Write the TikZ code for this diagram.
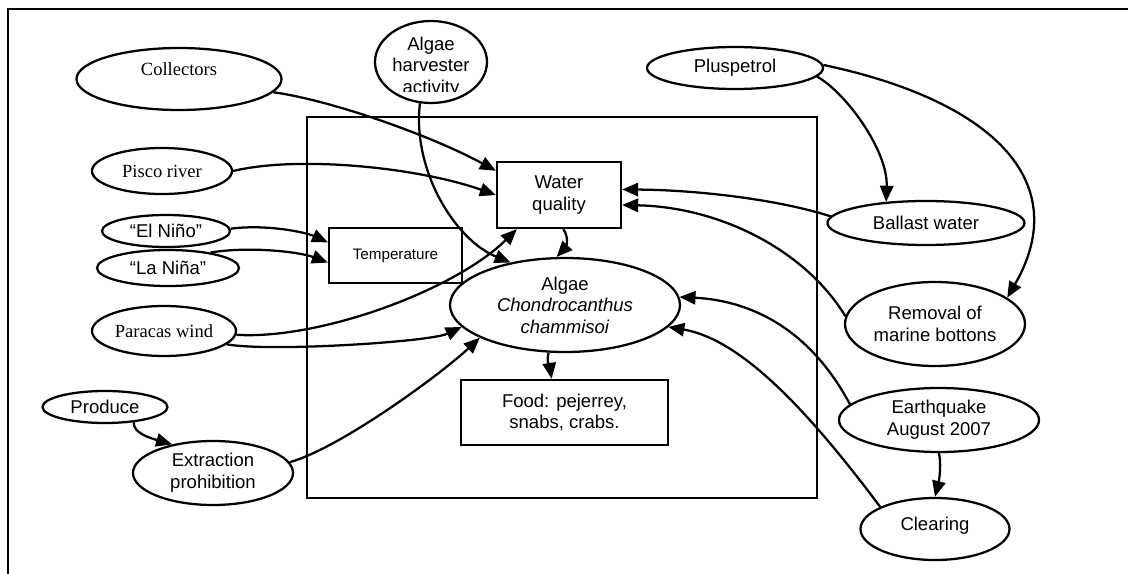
\documentclass[tikz,border=0pt]{standalone}
\usepackage{fontspec}
\setmainfont{Liberation Serif}
\setsansfont{Liberation Sans}
\usepackage{tikz}
\usetikzlibrary{arrows.meta,shapes.geometric}

\newcommand{\lbl}{\sffamily\fontsize{13.9}{16.2}\selectfont}
\newcommand{\lblrm}{\rmfamily\fontsize{13.9}{16.2}\selectfont}

\begin{document}
\begin{tikzpicture}[x=0.75pt,y=-0.75pt,line width=1.7pt,
  >={Triangle[length=12pt,width=10pt]},
  oval/.style={ellipse,draw,inner sep=0pt,align=center,font=\lbl},
  box/.style={rectangle,draw,inner sep=0pt,align=center,font=\lbl},
  wh/.style 2 args={minimum width={#1*0.75pt},minimum height={#2*0.75pt}}]
  \useasboundingbox (0,0) rectangle (1128,574);
  % frames
  \draw (1128,9) -- (8,9) -- (8,574);
  \draw (307,117) rectangle (817,498);
  % causes on the left
  \node[oval,wh={205}{62},font=\lblrm,text depth=15pt] (coll) at (179,79) {Collectors};
  \node[oval,wh={140}{46},font=\lblrm] (pisco) at (162,171) {Pisco river};
  \node[oval,wh={128}{32}] (nino) at (166,231) {“El Niño”};
  \node[oval,wh={142}{36}] (nina) at (168,268) {“La Niña”};
  \node[oval,wh={144}{50},font=\lblrm] (parac) at (164,331) {Paracas wind};
  \node[oval,wh={125}{32}] (produce) at (105,407) {Produce};
  \node[oval,wh={160}{64}] (extr) at (213,473) {Extraction\\prohibition};
  \node[oval,wh={112}{82}] (harv) at (431,62) {};
  \begin{scope}
    \clip (370,22) rectangle (492,92);
    \node[align=center,font=\lbl] at (431,67) {Algae\\harvester\\activity};
  \end{scope}
  % system
  \node[box,wh={124}{66}] (water) at (559,195) {Water\\quality};
  \node[box,wh={133}{55},font=\sffamily\fontsize{11.4}{13}\selectfont] (temp) at (395.5,255.5) {Temperature};
  \node[oval,wh={230}{94}] (algae) at (565,305) {Algae\\\textit{Chondrocanthus}\\\textit{chammisoi}};
  \node[box,wh={207}{65}] (food) at (564.5,412.5) {Food: pejerrey,\\snabs, crabs.};
  % causes on the right
  \node[oval,wh={176}{42}] (plus) at (735,68) {Pluspetrol};
  \node[oval,wh={197}{44}] (ballast) at (926,223) {Ballast water};
  \node[oval,wh={180}{84}] (removal) at (935,324) {Removal of\\marine bottons};
  \node[oval,wh={200}{64}] (quake) at (939,420) {Earthquake\\August 2007};
  \node[oval,wh={149}{62},text depth=8pt] (clear) at (935,529) {Clearing};
  % links
  \draw[->] (coll.-8) .. controls (330,100) and (430,135) .. (water.159);
  \draw[->] (pisco.0) .. controls (300,155) and (420,168) .. (water.180);
  \draw[->] (harv.-105) .. controls (412,170) and (455,240) .. (algae.142);
  \draw[->] (nino.2) .. controls (265,224) and (305,232) .. (temp.169);
  \draw[->] (nina.20) .. controls (250,246) and (300,252) .. (temp.186);
  \draw[->] (parac.-3) .. controls (320,340) and (455,290) .. (water.-141);
  \draw[->] (parac.-12) .. controls (270,352) and (430,342) .. (algae.-168);
  \draw[->] (water.-83) .. controls (570,238) and (565,248) .. (algae.100);
  \draw[->] (algae.-109) .. controls (546,362) and (550,368) .. (food.111);
  \draw[->] (extr.8) .. controls (340,448) and (440,375) .. (algae.-159);
  \draw[->] (produce.-28) .. controls (133,433) and (150,438) .. (extr.145);
  \draw[->] (plus.-6) .. controls (845,92) and (888,150) .. (ballast.152);
  \draw[->] (plus.2) .. controls (990,100) and (1075,180) .. (removal.20);
  \draw[->] (ballast.176) .. controls (780,200) and (700,190) .. (water.5);
  \draw[->] (removal.175) .. controls (805,250) and (720,207) .. (water.-9);
  \draw[->] (quake.170) .. controls (805,320) and (740,300) .. (algae.4);
  \draw[->] (clear.158) .. controls (815,420) and (745,340) .. (algae.-12);
  \draw[->] (quake.-90) .. controls (942,468) and (938,485) .. (clear.90);
\end{tikzpicture}
\end{document}
